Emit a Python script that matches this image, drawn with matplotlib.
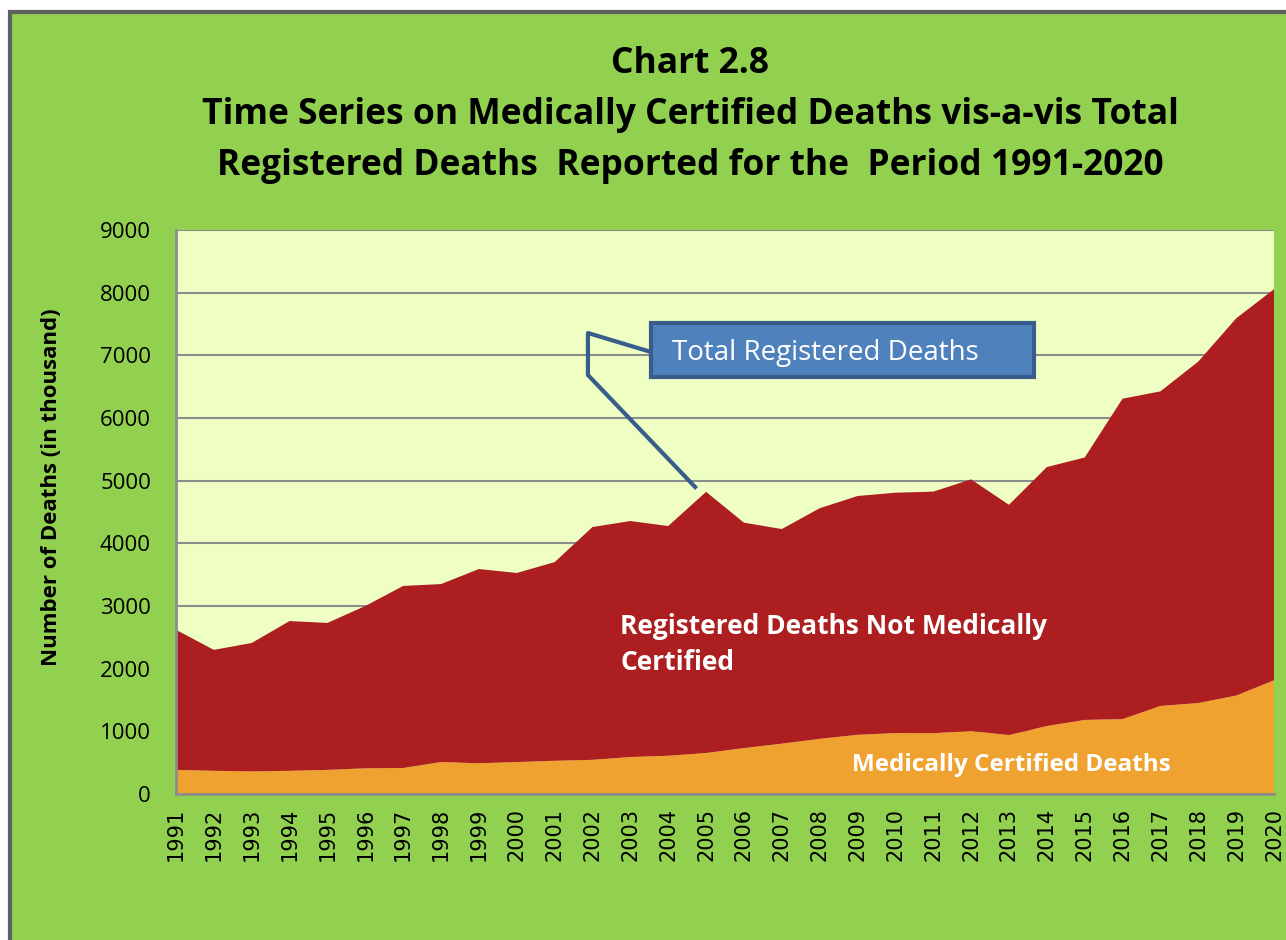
#!/usr/bin/env python3
"""Chart 2.8 - medically certified deaths vs total registered deaths, 1991-2020."""
import matplotlib
matplotlib.use("Agg")
import matplotlib.pyplot as plt
from matplotlib.patches import Rectangle

# Values in thousands
years = list(range(1991, 2021))
total_registered = [2620, 2300, 2410, 2760, 2730, 3000, 3320, 3350, 3590, 3527,
                    3700, 4260, 4356, 4276, 4822, 4330, 4228, 4560, 4755, 4808,
                    4825, 5020, 4615, 5217, 5370, 6308, 6425, 6900, 7590, 8055]
medically_certified = [385, 370, 360, 370, 385, 410, 415, 510, 490, 510,
                       530, 545, 590, 610, 654, 733, 803, 880, 945, 972,
                       970, 1005, 940, 1085, 1182, 1195, 1405, 1452, 1570, 1815]
not_certified = [t - m for t, m in zip(total_registered, medically_certified)]
y_ticks = list(range(0, 9001, 1000))

GREEN = "#92D050"
PLOT_BG = "#EFFFC4"
RED = "#AC1E1F"
ORANGE = "#EFA22F"
BOX_BLUE = "#4F81BD"
BOX_EDGE = "#385D8A"

fig = plt.figure(figsize=(12.86, 9.4), dpi=100)
fig.patch.set_facecolor("white")
# green chart panel with grey frame (kept behind the axes)
fig.patches.append(Rectangle((10 / 1286, -0.05), 1.1, 1.05 - 12 / 940,
                             transform=fig.transFigure, facecolor=GREEN,
                             edgecolor="#5f5f5f", linewidth=3, zorder=-10))

ax = fig.add_axes([176 / 1286, 1 - 794 / 940, (1274 - 176) / 1286, (794 - 230) / 940])
ax.set_facecolor(PLOT_BG)
ax.stackplot(years, medically_certified, not_certified, colors=[ORANGE, RED],
             linewidth=0, zorder=2)
ax.set_xlim(years[0], years[-1])
ax.set_ylim(0, 9000)
ax.set_yticks(y_ticks)
ax.set_xticks(years)
ax.set_xticklabels([str(y) for y in years], rotation=90, fontsize=15,
                   family="DejaVu Sans")
ax.set_yticklabels([str(v) for v in y_ticks], fontsize=16, family="Open Sans")
ax.tick_params(axis="y", length=0, pad=18)
ax.tick_params(axis="x", length=0, pad=10)
ax.grid(axis="y", color="#8c8c8c", linewidth=1.5, zorder=1)
ax.set_axisbelow(True)
for side in ("top", "right"):
    ax.spines[side].set_visible(False)
for side in ("left", "bottom"):
    ax.spines[side].set_color("#8c8c8c")
    ax.spines[side].set_linewidth(2)
    ax.spines[side].set_zorder(3)

ax.set_ylabel("Number of Deaths (in thousand)", fontsize=16, fontweight="bold",
              family="Open Sans")
ax.yaxis.set_label_coords(-0.104, 0.544)

# titles
title_lines = ["Chart 2.8",
               "Time Series on Medically Certified Deaths vis-a-vis Total",
               "Registered Deaths  Reported for the  Period 1991-2020"]
for line, ypix in zip(title_lines, [64, 115, 166]):
    fig.text(690 / 1286, 1 - ypix / 940, line, ha="center", va="center",
             fontsize=25.5, fontweight="bold", family="Open Sans")

# in-area labels
ax.text(2002.73, 2385, "Registered Deaths Not Medically\nCertified", color="white",
        fontsize=19, fontweight="bold", family="Open Sans", va="center", ha="left",
        linespacing=1.4, zorder=4)
ax.text(2008.86, 463, "Medically Certified Deaths", color="white",
        fontsize=17.5, fontweight="bold", family="Open Sans", va="center", ha="left",
        zorder=4)

# callout for the total line
ax.plot([2003.55, 2001.88, 2001.88, 2004.71], [7053, 7356, 6686, 4899],
        color=BOX_EDGE, linewidth=3, zorder=5, clip_on=False)
box = Rectangle((2003.55, 6654), 10.1, 862, facecolor=BOX_BLUE, edgecolor=BOX_EDGE,
                linewidth=3, zorder=6)
ax.add_patch(box)
ax.text(2004.1, 7030, "Total Registered Deaths", color="white", fontsize=20,
        family="Open Sans", va="center", ha="left", zorder=7)

fig.savefig("out.png", dpi=100, facecolor=fig.get_facecolor())
